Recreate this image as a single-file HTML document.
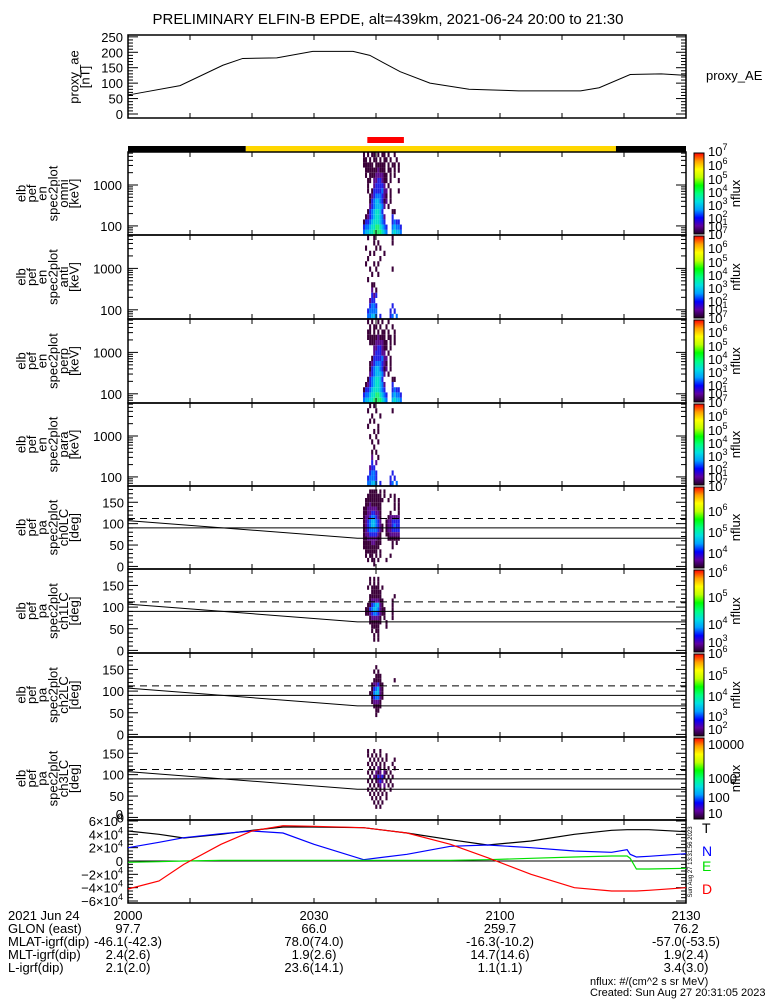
<!DOCTYPE html>
<html><head><meta charset="utf-8"><style>
html,body{margin:0;padding:0;background:#fff;}
svg{display:block;font-family:"Liberation Sans",sans-serif;}
</style></head><body>
<svg id="c" width="775" height="1000" viewBox="0 0 775 1000" xmlns="http://www.w3.org/2000/svg">
<text x="388" y="24" font-size="15" text-anchor="middle">PRELIMINARY ELFIN-B EPDE, alt=439km, 2021-06-24 20:00 to 21:30</text>
</svg>
<script>
// ---------- data ----------
const aeTimes=[0,1,8.4,15.3,18.5,24,29.8,36.3,39,43.9,48.7,55,63,73,76,81,86,90];
const aeValues=[62,65,92,158,180,182,203,203,190,137,100,80,75,75,85,128,130,125];
const aeTicks=[0,50,100,150,200,250];
const timeTicks=[0,30,60,90];
const timeTickLabels=["2000","2030","2100","2130"];
const eclipseBar=[[0,19,"#000"],[19,78.7,"#ffd700"],[78.7,90,"#000"]];
const scienceZone=[38.6,44.5];
const energyEdges=[6400,4782,3571,2667,1992,1488,1111,830,620,463,346,258,193,144,108,80,60];
const binStart=37.9, binStep=0.33;
const omni=["10101101011010010000","11010110101101001000","11111011111010110100","01111112111011010100","01011122221101010000","00110223321101000100","00100233332010000000","00101333342201000100","00012344432101000000","00013455431201000000","00023455542010000000","00134566530000110000","01234566542000300000","13345666543000343300","34456677654300454430","45566777765400565540"];
const anti=["00100100000000100000","00000101000000100000","01000010100000000000","00010100001000000000","00100000100000000000","01000101000000000000","00010010000000100000","00001001000000000000","00100000000000000000","00001100000000000000","00002010000000000000","00003230000000000000","00023300000000000000","00034430000000300000","00344440000003030000","00445540300003404000"];
const perp=["00101001010010000000","00010110100100100000","00110101011010010000","00111112111011010000","00011122221101010000","00000223321101000000","00000233322010000000","00001333342201000000","00012344432101000000","00013455431201000000","00023455542010000000","00134566530000110000","01234566542000300000","13345666543000343300","34456677654300454430","45566777765400565540"];
const para=["00010100000000000000","00100010000000100000","00001000100000000000","00010100000000000000","00100001000000000000","00000101000000000000","00010010000000000000","00001001000000000000","00000100000000000000","00001010000000000000","00002001000000000000","00003020000000000000","00023300000000000000","00034430000000300000","00344430000003030000","00445540300003404000"];
const paEdges=[180,170,160,150,140,130,120,110,100,90,80,70,60,50,40,30,20,10,0];
const ch0=["00011110101000000000","00111111101001010000","01111111110010010100","01121111100000010100","11222221100000010100","11223322100001000100","12234432100012222200","12345543200122333300","12345543210122343300","12344443210122333300","12233332100112222200","11222221100011111100","11112211100000101000","11111111000000100000","01111110100000000000","01011010100001000000","00101101000100000000","00000100000000000000"];
const ch1=["00000000000000000000","00010101000000000000","00010101000000000000","00101111010000000000","00001111100000000000","00011111100000010000","00012222110000100000","00113455210000100000","01134554211000100000","01123443211000100000","00012222101000100000","00011111100100000000","00001111000100000000","00001011000000000000","00000101000000000000","00000101000000000000","00000000000000000000","00000000000000000000"];
const ch2=["00000000000000000000","00000000000000000000","00000010000000000000","00000101000000000000","00000011100000000000","00000111100000010000","00001223110000000000","00001345210000000000","00011455210000000000","00001344210000000000","00001222100000000000","00000111100000000000","00000011000000000000","00000010000000000000","00000000000000000000","00000000000000000000","00000000000000000000","00000000000000000000"];
const ch3=["00000000000000000000","00000000000000000000","00100100100000000000","00101010100100000000","00010101010100010000","00101010101000100000","00010102101010010000","00101021202101000000","00010213231010100000","00101012320101000000","00010101202010100000","00101010101001000000","00010101010100000000","00001010100100000000","00000101010000000000","00000010100000000000","00000000000000000000","00000000000000000000"];
const igrfTimes=[0,5,9,15,20,25,30,38,45,52,58,65,72,78,80.5,81,82,84,90];
const igrfT=[45000,40000,34500,40000,46000,51000,51000,50000,42000,32000,24000,30000,40000,46000,47000,47000,47000,47000,44000];
const igrfN=[20000,28000,35000,41000,45000,42000,25000,2000,10000,22000,24000,20000,15000,13000,17000,10000,6000,7000,11000];
const igrfE=[-2000,-1000,0,1000,1000,1000,1000,1000,1000,1000,2000,4000,6000,7500,7500,4000,-12000,-12000,-11000];
const igrfD=[-42000,-30000,-5000,25000,45000,53000,52000,50000,42000,25000,5000,-20000,-40000,-45000,-45000,-45000,-45000,-44000,-40000];
const footLabels=["2021 Jun 24","GLON (east)","MLAT-igrf(dip)","MLT-igrf(dip)","L-igrf(dip)"];
const footValues=[["2000","97.7","-46.1(-42.3)","2.4(2.6)","2.1(2.0)"],["2030","66.0","78.0(74.0)","1.9(2.6)","23.6(14.1)"],["2100","259.7","-16.3(-10.2)","14.7(14.6)","1.1(1.1)"],["2130","76.2","-57.0(-53.5)","1.9(2.4)","3.4(3.0)"]];
// ---------- helpers ----------
const svg=document.getElementById('c');
const NS="http://www.w3.org/2000/svg";
function mk(tag,attrs,parent){const e=document.createElementNS(NS,tag);for(const k in attrs)e.setAttribute(k,attrs[k]);(parent||svg).appendChild(e);return e;}
const X0=128,X1=686;
const xT=t=>X0+(t-0)*(X1-X0)/90;
const levelColors=["none","#3a0038","#5b0a8c","#2020e8","#0070ff","#00b8f0","#00e0c8","#20f070","#60ff20"];
function line(x1,y1,x2,y2,col,w,dash){const l=mk('line',{x1,y1,x2,y2,stroke:col||"#000","stroke-width":w||1});if(dash)l.setAttribute('stroke-dasharray',dash);return l;}
function txt(x,y,s,size,anchor,fill){const t=mk('text',{x,y,"font-size":size||13,"text-anchor":anchor||"start",fill:fill||"#000"});t.textContent=s;return t;}
function frame(top,bot,name){const r=mk('rect',{x:X0,y:top,width:X1-X0,height:bot-top,fill:"none",stroke:"#000","stroke-width":1.5});


for(let t=10;t<90;t+=10){line(xT(t),bot,xT(t),bot-5);line(xT(t),top,xT(t),top+5);}}
function ylabel(cx,cy,lines,name){const g=mk('g',{});


lines.forEach((s,i)=>{const x=cx-(lines.length-1)*5.3+i*10.6;const t=mk('text',{x:0,y:0,"font-size":13,"text-anchor":"middle",transform:`translate(${x+4},${cy}) rotate(-90)`},g);t.textContent=s;});}
function sup(x,y,base,exp,name){const t=mk('text',{x,y,"font-size":13});


t.textContent=base;const s=mk('tspan',{dy:-6,"font-size":9},t);s.textContent=exp;return t;}
// colorbar gradient
const defs=mk('defs',{});const gr=mk('linearGradient',{id:"rb",x1:0,y1:1,x2:0,y2:0},defs);
["#200020","#6000a0","#0000ff","#00a0ff","#00e0e0","#00ff80","#00ff00","#c0ff00","#ffff00","#ffa000","#ff0000"].forEach((c,i,a)=>mk('stop',{offset:i/(a.length-1),"stop-color":c},gr));
function colorbar(top,bot,labels,name){const r=mk('rect',{x:694,y:top+1,width:10,height:bot-top-2,fill:"url(#rb)",stroke:"#000","stroke-width":1});


labels.forEach(l=>{if(l[2]===null)txt(708,top+l[0],l[1],13);else sup(708,top+l[0],l[1],l[2],name+'-label');});
const t=mk('text',{x:0,y:0,"font-size":13,"text-anchor":"middle",transform:`translate(740,${(top+bot)/2}) rotate(-90)`});t.textContent="nflux";}
// ---------- proxy AE ----------
const aeTop=35,aeBot=118,aeMin=-13,aeMax=256;
const yAE=v=>aeBot-(v-aeMin)*(aeBot-aeTop)/(aeMax-aeMin);
frame(aeTop,aeBot,'proxy-ae-panel');
for(let v=0;v<=250;v+=10){const w=v%50===0?10:5;line(X0,yAE(v),X0+w,yAE(v));line(X1,yAE(v),X1-w,yAE(v));}
aeTicks.forEach(v=>{const t=txt(123,yAE(v)+5,String(v),13,"end");

});
const aePath=mk('polyline',{points:aeTimes.map((t,i)=>xT(t)+","+yAE(aeValues[i])).join(" "),fill:"none",stroke:"#000","stroke-width":1});


ylabel(80,77,["proxy_ae","[nT]"],'proxy-ae-axis-title');
txt(706,80,"proxy_AE",13);
// bars
const sz=mk('rect',{x:xT(scienceZone[0]),y:137,width:xT(scienceZone[1])-xT(scienceZone[0]),height:6,fill:"#ff0000"});


eclipseBar.forEach(b=>{const r=mk('rect',{x:xT(b[0]),y:146,width:xT(b[1])-xT(b[0]),height:6,fill:b[2]});

});
// ---------- energy panels ----------
const panels=[152,235,319,403,486,569,653,737,820];
const eMin=60,eMax=6400;
function drawCells(top,bot,grid,edges,yfun,name){const g=mk('g',{});


grid.forEach((row,ri)=>{for(let ci=0;ci<row.length;ci++){const lv=+row[ci];if(!lv)continue;const t0=binStart+ci*binStep;const x=xT(t0),w=xT(t0+binStep)-x;const y1=yfun(edges[ri]),y2=yfun(edges[ri+1]);
const c=mk('rect',{x:x,y:Math.min(y1,y2),width:w,height:Math.abs(y2-y1),fill:levelColors[lv]},g);

}});}
const eNames=["omni","anti","perp","para"];
const eGrids=[omni,anti,perp,para];
const eCB=[[[4,"10","7"],[18,"10","6"],[32,"10","5"],[45,"10","4"],[58,"10","3"],[71,"10","2"],[79,"10","1"]]];
for(let p=0;p<4;p++){const top=panels[p],bot=panels[p+1];
const yE=e=>bot-(Math.log10(e)-Math.log10(eMin))*(bot-top)/(Math.log10(eMax)-Math.log10(eMin));
drawCells(top,bot,eGrids[p],energyEdges,yE,'spectrogram-'+eNames[p]);
frame(top,bot,'energy-panel-'+eNames[p]);
[60,70,80,90,100,200,300,400,500,600,700,800,900,1000,2000,3000,4000,5000,6000].forEach(e=>{const w=(e===100||e===1000)?10:5;line(X0,yE(e),X0+w,yE(e));line(X1,yE(e),X1-w,yE(e));});
[100,1000].forEach(e=>{const t=txt(122,yE(e)+5,String(e),13,"end");

});
ylabel(48,(top+bot)/2,["elb","pef","en","spec2plot",eNames[p],"[keV]"],'energy-axis-title-'+eNames[p]);
colorbar(top,bot,eCB[0],'colorbar-'+eNames[p]);}
// ---------- pitch angle panels ----------
const paNames=["ch0LC","ch1LC","ch2LC","ch3LC"];
const paGrids=[ch0,ch1,ch2,ch3];
const paMin=-6,paMax=188;
const lossCone=[[0,107],[37,66],[90,66]];
const antiLossCone=112;
const paCB=[[[5,"10","7"],[30,"10","6"],[51,"10","5"],[72,"10","4"]],[[8,"10","6"],[33,"10","5"],[60,"10","4"],[78,"10","3"]],[[5,"10","6"],[27,"10","5"],[48,"10","4"],[68,"10","3"],[81,"10","2"]],[[12,"10000",null],[46,"1000",null],[65,"100",null],[81,"10",null]]];
for(let p=0;p<4;p++){const top=panels[p+4],bot=panels[p+5];
const yP=v=>bot-(v-paMin)*(bot-top)/(paMax-paMin);
drawCells(top,bot,paGrids[p],paEdges,yP,'pitch-spectrogram-'+paNames[p]);
frame(top,bot,'pitch-panel-'+paNames[p]);
for(let v=0;v<=180;v+=10){const w=v%50===0?10:5;line(X0,yP(v),X0+w,yP(v));line(X1,yP(v),X1-w,yP(v));}
[0,50,100,150].forEach(v=>{const t=txt(124,yP(v)+5,String(v),13,"end");

});
const d=line(X0,yP(antiLossCone),X1,yP(antiLossCone),"#000",1,"7,5");


const n=line(X0,yP(90),X1,yP(90));


const lc=mk('polyline',{points:lossCone.map(q=>xT(q[0])+","+yP(q[1])).join(" "),fill:"none",stroke:"#000","stroke-width":1});


ylabel(48,(top+bot)/2,["elb","pef","pa","spec2plot",paNames[p],"[deg]"],'pitch-axis-title-'+paNames[p]);
colorbar(top,bot,paCB[p],'colorbar-'+paNames[p]);}
// ---------- IGRF ----------
const gTop=820,gBot=903,gMin=-63000,gMax=61500;
const yG=v=>gBot-(v-gMin)*(gBot-gTop)/(gMax-gMin);
frame(gTop,gBot,'igrf-panel');
for(let v=-60000;v<=60000;v+=5000){const w=v%20000===0?10:5;line(X0,yG(v),X0+w,yG(v));line(X1,yG(v),X1-w,yG(v));}
line(X0,yG(0),X1,yG(0));
const gT=[60000,40000,20000,0,-20000,-40000,-60000];
gT.forEach(v=>{if(v===0){txt(123,yG(0)+5,"0",13,"end");return;}const t=mk('text',{x:123,y:yG(v)+5,"font-size":13,"text-anchor":"end"});


t.textContent=(v<0?"\u2212":"")+Math.abs(v/10000)+"\u00d710";const s=mk('tspan',{dy:-6,"font-size":9},t);s.textContent="4";});
txt(123,gTop-1,"0",13,"end");
[[igrfT,"#000","T"],[igrfN,"#0000ff","N"],[igrfE,"#00e000","E"],[igrfD,"#ff0000","D"]].forEach(s=>{const pl=mk('polyline',{points:igrfTimes.map((t,i)=>xT(t)+","+yG(s[0][i])).join(" "),fill:"none",stroke:s[1],"stroke-width":1.2});

});
[["T",829,"#000"],["N",852,"#0000ff"],["E",867,"#00e000"],["D",890,"#ff0000"]].forEach(l=>{const t=txt(702,l[1]+4,l[0],14,"start",l[2]);

});
const st=mk('text',{x:0,y:0,"font-size":6,"text-anchor":"middle",transform:"translate(692,862) rotate(-90)"});st.textContent="Sun Aug 27 13:31:56 2023";
// ---------- footer ----------
footLabels.forEach((s,i)=>txt(8,920+i*13,s,13));
footValues.forEach((col,ci)=>col.forEach((s,i)=>{const t=txt(xT(timeTicks[ci]),920+i*13,s,13,"middle");

}));
txt(590,985,"nflux: #/(cm^2 s sr MeV)",11);
txt(590,996,"Created: Sun Aug 27 20:31:05 2023",11);
</script>
</body></html>
